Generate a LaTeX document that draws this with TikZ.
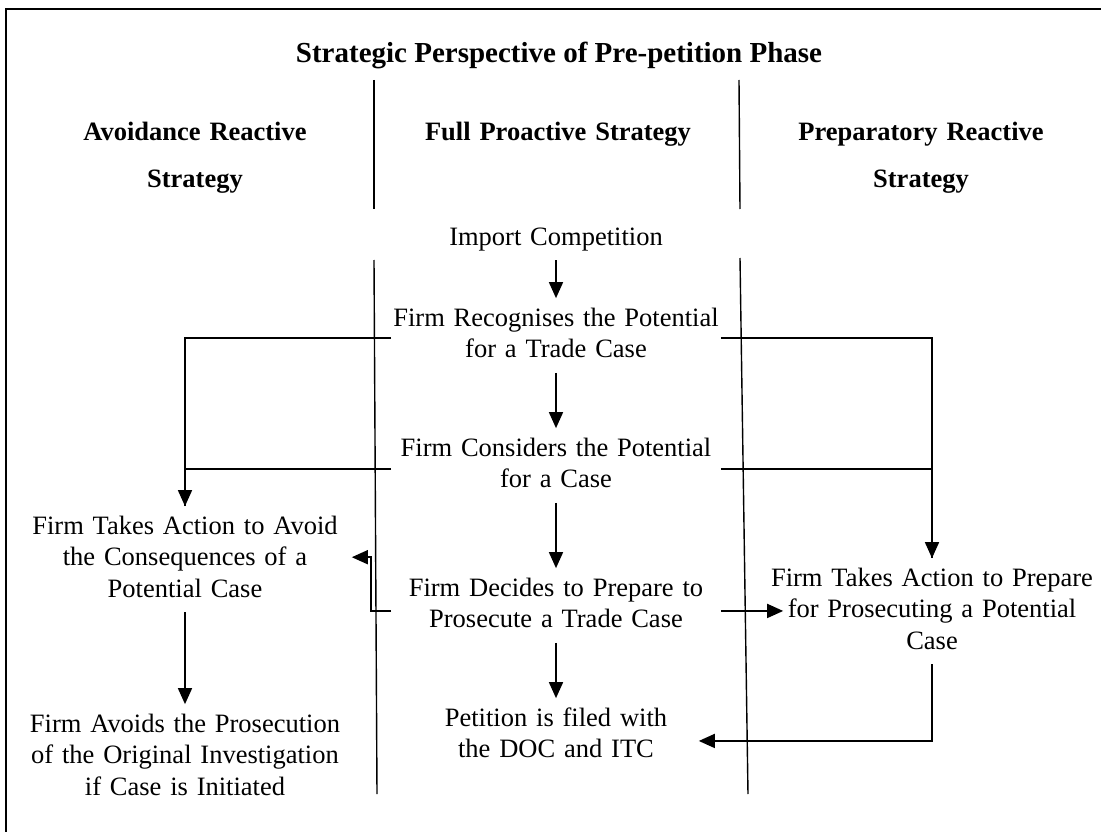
\documentclass[tikz,border=0pt]{standalone}
\usepackage{fontspec}
\setmainfont{Liberation Serif}
\usetikzlibrary{arrows.meta,calc}

\begin{document}
\hyphenpenalty=10000
\exhyphenpenalty=10000
\begin{tikzpicture}[x=1pt,y=-1pt,
  line width=1.6pt,
  body/.style={font=\fontsize{26.5}{31.5}\selectfont, align=center,
    text width=340pt, inner xsep=0pt, inner ysep=5pt, anchor=base},
  head/.style={font=\bfseries\fontsize{26.5}{47}\selectfont, align=center,
    text width=320pt, inner sep=0pt, anchor=base},
  lane/.style={line width=1.4pt},
  flow/.style={-{Triangle[length=16pt,width=14pt]}},
  link/.style={line width=1.6pt}
]
\useasboundingbox (0,0) rectangle (1101,832);
\clip (0,0) rectangle (1101,832);

% outer frame
\draw[line width=2.6pt] (6,9) rectangle (1130,860);

% title and column headings
\node[font=\bfseries\fontsize{29}{34}\selectfont, anchor=base] (title) at (559,63)
  {Strategic Perspective of Pre-petition Phase};
\node[head] (hleft) at (195,141) {Avoidance Reactive\\Strategy};
\node[head] (hmid) at (558,141) {Full Proactive Strategy};
\node[head] (hright) at (921,141) {Preparatory Reactive\\Strategy};

% swimlane separators
\draw[lane] (374,80) -- (374,209);
\draw[lane] (739,80) -- (740,209);
\draw[lane] (374,260) -- (377,794);
\draw[lane] (740,258) -- (748,794);

% centre column
\node[body] (imp) at (556,245) {\strut Import Competition};
\node[body] (rec) at (556,326) {\strut Firm Recognises the Potential\\\strut for a Trade Case};
\node[body] (cons) at (556,456) {\strut Firm Considers the Potential\\\strut for a Case};
\node[body] (dec) at (556,596) {\strut Firm Decides to Prepare to\\\strut Prosecute a Trade Case};
\node[body] (pet) at (556,726) {\strut Petition is filed with\\\strut the DOC and ITC};

% left column
\node[body] (avoid) at (185,534)
  {\strut Firm Takes Action to Avoid\\\strut the Consequences of a\\\strut Potential Case};
\node[body] (avoids) at (185,732)
  {\strut Firm Avoids the Prosecution\\\strut of the Original Investigation\\\strut if Case is Initiated};

% right column
\node[body] (prep) at (932,586)
  {\strut Firm Takes Action to Prepare\\\strut for Prosecuting a Potential\\\strut Case};

% connector end points at the sides of the centre boxes
\coordinate (recL)  at ([xshift=6pt,yshift=-2.5pt]rec.west);
\coordinate (recR)  at ([xshift=-6pt,yshift=-2.5pt]rec.east);
\coordinate (consL) at ([xshift=6pt,yshift=-3.5pt]cons.west);
\coordinate (consR) at ([xshift=-6pt,yshift=-3.5pt]cons.east);
\coordinate (decL)  at ([xshift=6pt,yshift=-5.5pt]dec.west);
\coordinate (decR)  at ([xshift=-6pt,yshift=-5.5pt]dec.east);
\coordinate (petR)  at ([xshift=-28pt,yshift=-5.5pt]pet.east);
\coordinate (avoidR) at ([xshift=-4pt,yshift=2pt]avoid.east);
\coordinate (prepL) at ([xshift=22pt]prep.west);

% centre flow
\draw[flow] (imp) -- (rec);
\draw[flow] (rec) -- (cons);
\draw[flow] (cons) -- (dec);
\draw[flow] (dec) -- (pet);

% branches to the reactive strategies
\draw[link] (recL) -| (avoid.north);
\draw[flow] (consL) -| (avoid.north);
\draw[link] (recR) -| (prep.north);
\draw[flow] (consR) -| (prep.north);

\draw[flow] (decL) -- ++(-20,0) |- (avoidR);
\draw[flow] (decR) -- (decR -| prepL);
\draw[flow] (avoid) -- (avoids);
\draw[flow] (prep.south) |- (petR);
\end{tikzpicture}
\end{document}
